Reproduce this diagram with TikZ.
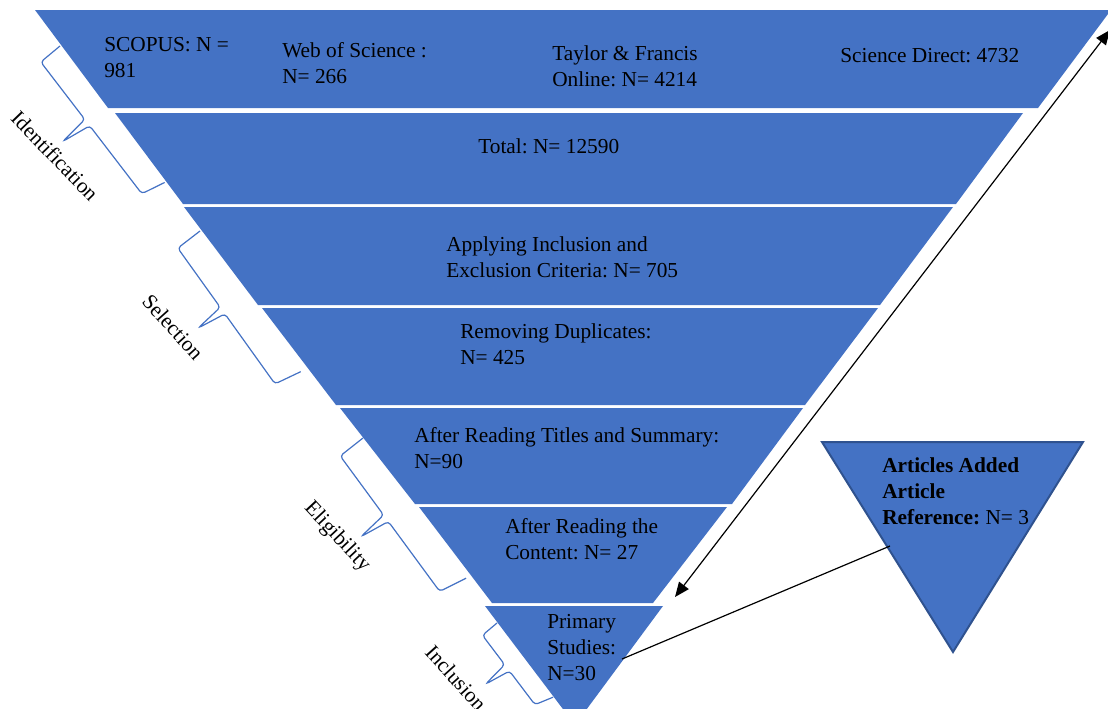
\documentclass[tikz,border=0pt]{standalone}
\usepackage{fontspec}
\setmainfont{Liberation Serif}
\usetikzlibrary{arrows.meta}
\frenchspacing

\definecolor{funnelblue}{HTML}{4472C4}
\definecolor{edgeblue}{HTML}{2F528F}

\tikzset{
  pics/sidebrace/.style n args={3}{code={
    \draw[bracestyle] (0,0) -- (1,-#2) -- ({0.45*#1-4},-#2) -- ({0.45*#1},-#3)
      -- ({0.45*#1+4},-#2) -- ({#1-5},-#2) -- (#1,0);
  }},
}

\begin{document}
\begin{tikzpicture}[x=0.75pt,y=0.75pt,
  band/.style={fill=funnelblue},
  lbl/.style={anchor=north west, align=left, font=\fontsize{16}{19.5}\selectfont},
  sidelbl/.style={font=\fontsize{16}{19.5}\selectfont},
  bracestyle/.style={draw=funnelblue, line width=0.9pt, rounded corners=2.5pt},
  addtri/.style={fill=funnelblue, draw=edgeblue, line width=1.5pt, line join=miter},
  dblarrow/.style={{Triangle[length=11pt,width=9pt]}-{Triangle[length=11pt,width=9pt]}, line width=0.9pt},
  link/.style={line width=0.9pt}]
\tikzstyle{every node}+=[inner sep=0pt]
\useasboundingbox (0,0) rectangle (1108,-708);
\clip (0,0) rectangle (1108,-708);
% funnel bands
\fill [band] (35,-10) -- (1111,-10) -- (1038,-108) -- (108,-108) -- cycle;
\fill [band] (115,-113) -- (1023,-113) -- (956,-204) -- (183,-204) -- cycle;
\fill [band] (184,-207) -- (953,-207) -- (880,-305) -- (258,-305) -- cycle;
\fill [band] (262,-308) -- (878,-308) -- (805,-405) -- (336,-405) -- cycle;
\fill [band] (340,-408) -- (803,-408) -- (732,-504) -- (415,-504) -- cycle;
\fill [band] (419,-507) -- (727,-507) -- (653,-603) -- (492,-603) -- cycle;
\fill [band] (485,-606) -- (663,-606) -- (575,-725) -- cycle;
% band texts
\node [lbl] (scopus) at (104,-37.5) {SCOPUS: N =\\981};
\node [lbl] (wos) at (282,-42.5) {Web of Science :\\N= 266};
\node [lbl] (tandf) at (552,-45.5) {Taylor \& Francis\\Online: N= 4214};
\node [lbl] (scidir) at (840,-48.5) {Science Direct: 4732};
\node [lbl] (total) at (478,-138.5) {Total: N= 12590};
\node [lbl] (criteria) at (446,-236.5) {Applying Inclusion and\\Exclusion Criteria: N= 705};
\node [lbl] (dupl) at (460,-323.5) {Removing Duplicates:\\N= 425};
\node [lbl] (titles) at (414,-427.5) {After Reading Titles and Summary:\\N=90};
\node [lbl] (content) at (505,-518.5) {After Reading the\\Content: N= 27};
\node [lbl] (primary) at (547,-614.5) {Primary\\Studies:\\N=30};
% braces and stage names
\pic [rotate=-52.5] at (60,-46) {sidebrace={172}{25}{56}};
\pic [rotate=-54.4] at (200,-231) {sidebrace={173}{28}{58}};
\pic [rotate=-53.7] at (363,-438) {sidebrace={174}{29}{60}};
\pic [rotate=-52.9] at (497,-623) {sidebrace={93}{19}{46}};
\node [sidelbl, rotate=-46] (ident) at (55,-156) {Identification};
\node [sidelbl, rotate=-48] (select) at (173,-327) {Selection};
\node [sidelbl, rotate=-47] (elig) at (337,-537) {Eligibility};
\node [sidelbl, rotate=-48] (incl) at (456,-678) {Inclusion};
% added articles
\draw [addtri] (822,-442) -- (1083,-442) -- (953,-652) -- cycle;
\node [lbl] (added) at (882,-457.5) {\textbf{Articles Added}\\\textbf{Article}\\\textbf{Reference:} N= 3};
% connectors
\coordinate (arrtop) at (1110,-30);
\coordinate (arrbot) at (675,-597);
\coordinate (primlink) at (622,-659);
\coordinate (addlink) at (890,-546);
\draw [dblarrow] (arrtop) -- (arrbot);
\draw [link] (primlink) -- (addlink);
\end{tikzpicture}
\end{document}
